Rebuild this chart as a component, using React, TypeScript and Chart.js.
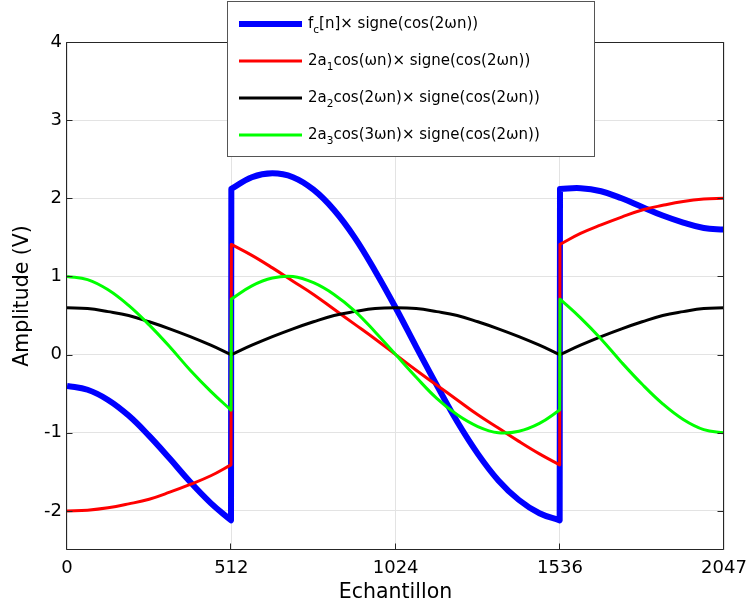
import React, { useEffect, useRef } from "react";
import { Chart, registerables } from "chart.js";

Chart.register(...registerables);

// Sample positions (n) read along the x axis
const sampleN = [
  0, 64, 128, 192, 256, 320, 384, 448, 511,
  512, 576, 640, 704, 768, 832, 896, 960, 1024, 1088, 1152, 1216, 1280, 1344, 1408, 1472, 1535,
  1536, 1600, 1664, 1728, 1792, 1856, 1920, 1984, 2047,
];

// f_c[n] x signe(cos(2wn))  (blue)
const blueValues = [
  -0.40, -0.45, -0.58, -0.78, -1.04, -1.33, -1.63, -1.90, -2.12,
  2.12, 2.27, 2.32, 2.27, 2.11, 1.85, 1.50, 1.07, 0.60, 0.10, -0.39, -0.86, -1.27, -1.61, -1.86, -2.03, -2.12,
  2.12, 2.13, 2.09, 2.00, 1.89, 1.78, 1.69, 1.62, 1.60,
];

// 2a1 cos(wn) x signe(cos(2wn))  (red)
const redValues = [
  -2.00, -1.99, -1.96, -1.91, -1.85, -1.76, -1.66, -1.55, -1.41,
  1.41, 1.27, 1.11, 0.94, 0.77, 0.58, 0.39, 0.20, 0.00, -0.20, -0.39, -0.58, -0.77, -0.94, -1.11, -1.27, -1.41,
  1.41, 1.55, 1.66, 1.76, 1.85, 1.91, 1.96, 1.99, 2.00,
];

// 2a2 cos(2wn) x signe(cos(2wn))  (black)
const blackValues = [
  0.60, 0.59, 0.55, 0.50, 0.42, 0.33, 0.23, 0.12, 0.00,
  0.00, 0.12, 0.23, 0.33, 0.42, 0.50, 0.55, 0.59, 0.60, 0.59, 0.55, 0.50, 0.42, 0.33, 0.23, 0.12, 0.00,
  0.00, 0.12, 0.23, 0.33, 0.42, 0.50, 0.55, 0.59, 0.60,
];

// 2a3 cos(3wn) x signe(cos(2wn))  (green)
const greenValues = [
  1.00, 0.96, 0.83, 0.63, 0.38, 0.10, -0.20, -0.47, -0.71,
  0.71, 0.88, 0.98, 1.00, 0.92, 0.77, 0.56, 0.29, 0.00, -0.29, -0.56, -0.77, -0.92, -1.00, -0.98, -0.88, -0.71,
  0.71, 0.47, 0.20, -0.10, -0.38, -0.63, -0.83, -0.96, -1.00,
];

// samples where the sign switch produces a jump
const jumpN = [511, 512, 1535, 1536];

const xTicks = [0, 512, 1024, 1536, 2047];
const yTicks = [-2, -1, 0, 1, 2, 3, 4];

const legendLabels = [
  "f_c[n]\u00d7 signe(cos(2\u03c9n))",
  "2a_1cos(\u03c9n)\u00d7 signe(cos(2\u03c9n))",
  "2a_2cos(2\u03c9n)\u00d7 signe(cos(2\u03c9n))",
  "2a_3cos(3\u03c9n)\u00d7 signe(cos(2\u03c9n))",
];

const xTitle = "Echantillon";
const yTitle = "Amplitude (V)";

const seriesValues = [blueValues, redValues, blackValues, greenValues];
const seriesColors = ["#0000ff", "#ff0000", "#000000", "#00ff00"];
const seriesWidths = [6, 3, 3, 3];

const FONT = '"DejaVu Sans", Verdana, sans-serif';

function toPoints(vals: number[]) {
  const pts: { x: number; y: number }[] = [];
  sampleN.forEach((n, i) => {
    pts.push({ x: n, y: vals[i] });
    if (jumpN.includes(n)) pts.push({ x: n, y: vals[i] });
  });
  return pts;
}

function drawRich(ctx: CanvasRenderingContext2D, text: string, x: number, y: number) {
  let cx = x;
  let buf = "";
  const flush = () => {
    if (!buf) return;
    ctx.font = `15px ${FONT}`;
    ctx.fillText(buf, cx, y);
    cx += ctx.measureText(buf).width;
    buf = "";
  };
  for (let i = 0; i < text.length; i++) {
    const ch = text[i];
    if (ch === "_" && i + 1 < text.length) {
      flush();
      const s = text[i + 1];
      ctx.font = `10.5px ${FONT}`;
      ctx.fillText(s, cx, y + 6);
      cx += ctx.measureText(s).width;
      i++;
    } else {
      buf += ch;
    }
  }
  flush();
}

const framePlugin = {
  id: "frame",
  afterDraw(chart: any) {
    const { ctx, chartArea: a, scales } = chart;
    ctx.save();
    // axes box and inward ticks
    ctx.strokeStyle = "#262626";
    ctx.lineWidth = 1;
    ctx.beginPath();
    const L = Math.round(a.left) - 0.5;
    const R = Math.round(a.right) - 0.5;
    const T = Math.round(a.top) + 0.5;
    const B = Math.round(a.bottom) - 0.5;
    xTicks.forEach((v) => {
      const px = Math.round(scales.x.getPixelForValue(v)) - 0.5;
      ctx.moveTo(px, B);
      ctx.lineTo(px, B - 6);
      ctx.moveTo(px, T);
      ctx.lineTo(px, T + 6);
    });
    yTicks.forEach((v) => {
      const py = Math.round(scales.y.getPixelForValue(v)) + 0.5;
      ctx.moveTo(L, py);
      ctx.lineTo(L + 6, py);
      ctx.moveTo(R, py);
      ctx.lineTo(R - 6, py);
    });
    ctx.rect(L, T, R - L, B - T);
    ctx.stroke();

    // legend
    const bx = 227.5, by = 1.5, bw = 367, bh = 155;
    ctx.fillStyle = "#ffffff";
    ctx.fillRect(bx, by, bw, bh);
    ctx.strokeStyle = "#555555";
    ctx.strokeRect(bx, by, bw, bh);
    const rowY = [24, 61, 98, 135];
    legendLabels.forEach((lab, i) => {
      const y = rowY[i];
      ctx.strokeStyle = seriesColors[i];
      ctx.lineWidth = seriesWidths[i];
      ctx.beginPath();
      ctx.moveTo(239, y);
      ctx.lineTo(302, y);
      ctx.stroke();
      ctx.fillStyle = "#000000";
      ctx.textBaseline = "middle";
      ctx.textAlign = "left";
      drawRich(ctx, lab, 308, y);
    });
    ctx.restore();
  },
};

export default function App() {
  const ref = useRef<HTMLCanvasElement>(null);
  useEffect(() => {
    document.body.style.margin = "0";
    const canvas = ref.current;
    if (!canvas) return;
    const orders = [4, 3, 2, 1];
    const chart = new Chart(canvas, {
      type: "line",
      data: {
        datasets: seriesValues.map((vals, i) => ({
          label: legendLabels[i],
          data: toPoints(vals),
          borderColor: seriesColors[i],
          backgroundColor: seriesColors[i],
          borderWidth: seriesWidths[i],
          pointRadius: 0,
          tension: 0.4,
          fill: false,
          order: orders[i],
          borderJoinStyle: "round" as const,
          borderCapStyle: "butt" as const,
        })),
      },
      options: {
        responsive: false,
        animation: false,
        events: [],
        layout: { padding: { left: 0, top: 42, right: 24, bottom: 0 } },
        plugins: { legend: { display: false }, tooltip: { enabled: false }, title: { display: false } },
        scales: {
          x: {
            type: "linear",
            min: 0,
            max: 2047,
            afterBuildTicks: (s: any) => {
              s.ticks = xTicks.map((v) => ({ value: v }));
            },
            afterFit: (s: any) => {
              s.height = 59;
              s.paddingLeft = 0;
              s.paddingRight = 0;
            },
            grid: { color: "#e3e3e3", drawTicks: false, lineWidth: 1 },
            border: { display: false },
            ticks: {
              color: "#000000",
              font: { family: FONT, size: 18 },
              padding: 8,
              maxRotation: 0,
              autoSkip: false,
              callback: (v: any) => String(v),
            },
            title: {
              display: true,
              text: xTitle,
              color: "#000000",
              font: { family: FONT, size: 20.5 },
              padding: { top: 0, bottom: 4 },
            },
          },
          y: {
            type: "linear",
            min: -2.5,
            max: 4,
            afterBuildTicks: (s: any) => {
              s.ticks = yTicks.map((v) => ({ value: v }));
            },
            afterFit: (s: any) => {
              s.width = 67;
              s.paddingTop = 0;
              s.paddingBottom = 0;
            },
            grid: { color: "#e3e3e3", drawTicks: false, lineWidth: 1 },
            border: { display: false },
            ticks: {
              color: "#000000",
              font: { family: FONT, size: 18 },
              padding: 5,
              autoSkip: false,
              callback: (v: any) => String(v),
            },
            title: {
              display: true,
              text: yTitle,
              color: "#000000",
              font: { family: FONT, size: 20.5 },
              padding: { top: 10, bottom: 0 },
            },
          },
        },
      },
      plugins: [framePlugin],
    });
    return () => chart.destroy();
  }, []);
  return (
    <div style={{ position: "absolute", left: 0, top: 0, width: 748, height: 609, background: "#ffffff" }}>
      <canvas ref={ref} width={748} height={609} style={{ display: "block" }} />
    </div>
  );
}
